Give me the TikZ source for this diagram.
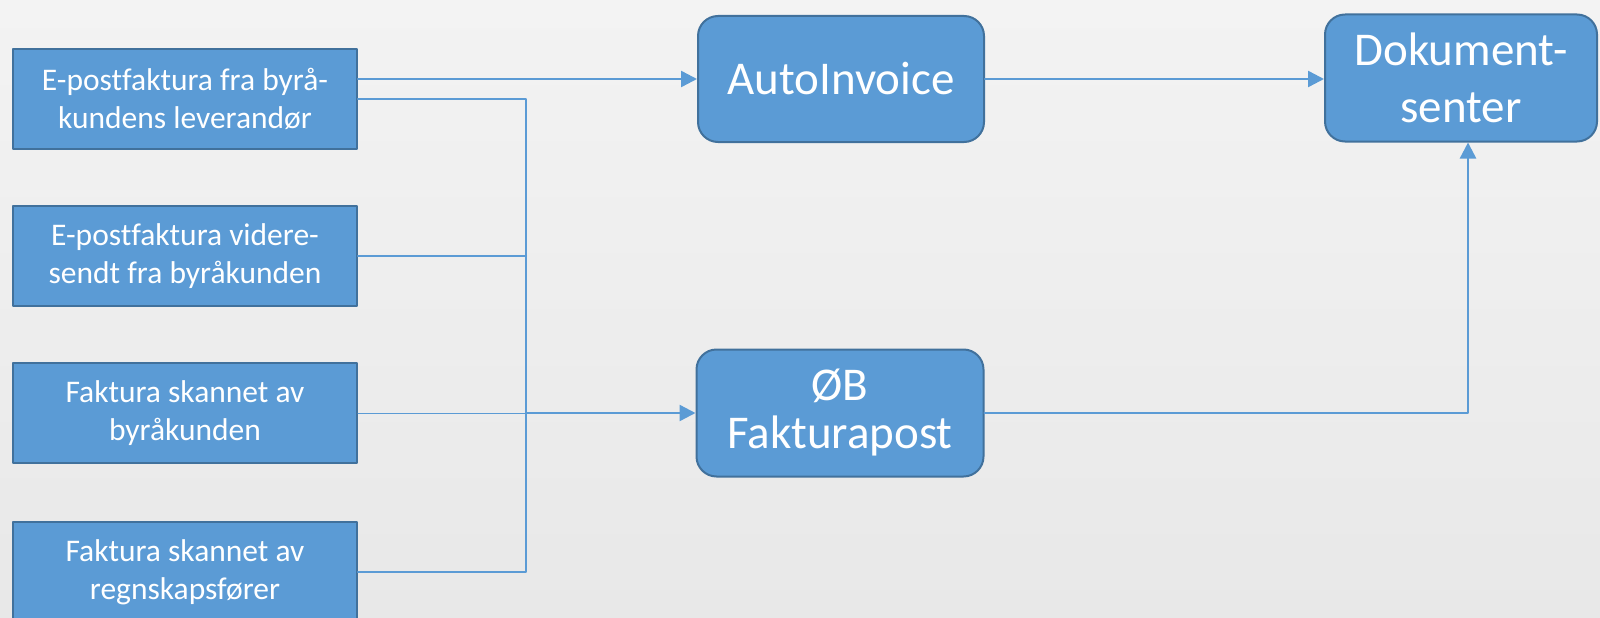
\documentclass[tikz,border=0pt]{standalone}
\usepackage{fontspec}
\setmainfont{Carlito}[Ligatures=NoCommon]
\usetikzlibrary{arrows.meta}
\definecolor{boxfill}{HTML}{5B9BD5}
\definecolor{boxline}{HTML}{41719C}
\definecolor{bgtop}{HTML}{F3F3F3}
\definecolor{bgbot}{HTML}{E8E8E8}

\begin{document}
\begin{tikzpicture}[line cap=round,line join=round,>={Triangle[length=16pt,width=16pt]},x=1pt,y=-1pt,
	kilde/.style={draw=boxline,fill=boxfill,line width=2pt,text=white,align=center,inner sep=0pt,minimum width=344pt,minimum height=100pt,font=\fontsize{31.5}{38}\selectfont},
	system/.style={draw=boxline,fill=boxfill,line width=2pt,text=white,align=center,inner sep=0pt,rounded corners=20pt,font=\fontsize{47}{57}\selectfont},
	pil/.style={draw=boxfill,line width=2.4pt}]
				\useasboundingbox (0,0) rectangle (1600,618);
				\shade [top color=bgtop,bottom color=bgbot] (0,0) rectangle (1600,618);
				% kilder
				\node [kilde] (ep1) at (185,99) {E-postfaktura fra byrå-\\kundens leverandør};
				\node [kilde] (ep2) at (185,256) {E-postfaktura videre-\\sendt fra byråkunden};
				\node [kilde] (fs1) at (185,413) {Faktura skannet av\\byråkunden};
				\node [kilde] (fs2) at (185,572) {Faktura skannet av\\regnskapsfører};
				% systemer
				\node [system,minimum width=286pt,minimum height=126pt] (ai) at (841,79) {AutoInvoice};
				\node [system,minimum width=287pt,minimum height=127pt] (ob) at (840,413) {\raisebox{-6pt}{ØB}\\[-3pt]Fakturapost};
				\node [system,minimum width=272pt,minimum height=127pt] (ds) at (1461,78) {Dokument-\\senter};
				\coordinate (kryss) at (526,413);
				% piler
				\draw [pil,->] (ep1.east |- ai.west) -- (ai.west);
				\draw [pil] (ep1.east) -| (kryss) |- (fs2.east);
				\draw [pil] (ep2.east) -- (ep2.east -| kryss);
				\draw [pil,line width=1pt] (fs1.east) -- (kryss);
				\draw [pil,->] (kryss) -- (ob.west);
				\draw [pil,->] (ai.east) -- (ai.east -| ds.west);
				\draw [pil,->] (ob.east) -| ([xshift=7pt]ds.south);
\end{tikzpicture}
\end{document}
